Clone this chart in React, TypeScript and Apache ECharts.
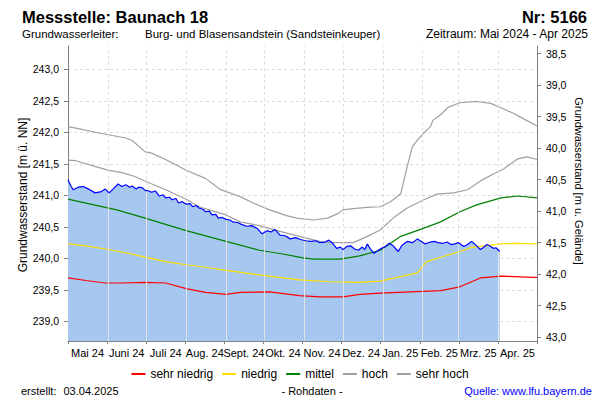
import React, { useEffect, useRef } from 'react';
import * as echarts from 'echarts';

const FONT = '"Liberation Sans", Arial, sans-serif';

const monthLabels = ['Mai 24', 'Juni 24', 'Juli 24', 'Aug. 24', 'Sept. 24', 'Okt. 24', 'Nov. 24', 'Dez. 24', 'Jan. 25', 'Feb. 25', 'Mrz. 25', 'Apr. 25'];
const monthStarts = ['2024-06-01', '2024-07-01', '2024-08-01', '2024-09-01', '2024-10-01', '2024-11-01', '2024-12-01', '2025-01-01', '2025-02-01', '2025-03-01', '2025-04-01'];
const levelTicks = [239.0, 239.5, 240.0, 240.5, 241.0, 241.5, 242.0, 242.5, 243.0];
const depthTicks = [38.5, 39.0, 39.5, 40.0, 40.5, 41.0, 41.5, 42.0, 42.5, 43.0];

const X_START = '2024-05-01';
const X_END = '2025-05-01';
const LEVEL_MIN = 238.69;
const LEVEL_MAX = 243.37;
const GROUND_LEVEL = 281.75;

const sehrNiedrig: [string, number][] = [
  ['2024-05-01', 239.69], ['2024-05-15', 239.65], ['2024-05-30', 239.61], ['2024-06-12', 239.61],
  ['2024-06-30', 239.62], ['2024-07-16', 239.61], ['2024-08-01', 239.52], ['2024-08-16', 239.46],
  ['2024-09-01', 239.43], ['2024-09-12', 239.46], ['2024-10-05', 239.47], ['2024-10-28', 239.41],
  ['2024-11-13', 239.39], ['2024-12-01', 239.39], ['2024-12-14', 239.43], ['2024-12-30', 239.45],
  ['2025-02-15', 239.49], ['2025-03-02', 239.55], ['2025-03-18', 239.69], ['2025-04-03', 239.72],
  ['2025-04-28', 239.70], ['2025-05-01', 239.70],
];

const niedrig: [string, number][] = [
  ['2024-05-01', 240.23], ['2024-05-15', 240.20], ['2024-05-30', 240.15], ['2024-06-15', 240.09],
  ['2024-06-30', 240.02], ['2024-07-16', 239.95], ['2024-08-01', 239.90], ['2024-08-16', 239.86],
  ['2024-09-01', 239.81], ['2024-09-27', 239.74], ['2024-10-28', 239.66], ['2024-11-21', 239.63],
  ['2024-12-14', 239.62], ['2024-12-30', 239.64], ['2025-01-28', 239.77], ['2025-02-04', 239.95],
  ['2025-02-17', 240.03], ['2025-03-02', 240.11], ['2025-03-10', 240.17], ['2025-04-03', 240.23],
  ['2025-04-16', 240.24], ['2025-05-01', 240.23],
];

const mittel: [string, number][] = [
  ['2024-05-01', 240.94], ['2024-05-30', 240.81], ['2024-06-08', 240.77], ['2024-06-30', 240.64],
  ['2024-08-01', 240.44], ['2024-09-01', 240.27], ['2024-09-27', 240.13], ['2024-10-15', 240.07],
  ['2024-10-31', 240.01], ['2024-11-08', 239.99], ['2024-11-29', 239.99], ['2024-12-14', 240.04],
  ['2024-12-30', 240.13], ['2025-01-15', 240.35], ['2025-02-02', 240.48], ['2025-02-15', 240.58],
  ['2025-03-02', 240.74], ['2025-03-15', 240.85], ['2025-04-03', 240.96], ['2025-04-16', 240.99],
  ['2025-05-01', 240.96],
];

const hoch: [string, number][] = [
  ['2024-05-01', 241.56], ['2024-05-07', 241.55], ['2024-05-22', 241.46], ['2024-06-01', 241.40],
  ['2024-06-12', 241.36], ['2024-06-22', 241.30], ['2024-07-03', 241.20], ['2024-07-16', 241.09],
  ['2024-08-01', 240.94], ['2024-08-11', 240.82], ['2024-08-22', 240.75], ['2024-09-01', 240.69],
  ['2024-09-12', 240.58], ['2024-09-27', 240.52], ['2024-10-13', 240.43], ['2024-10-28', 240.35],
  ['2024-11-13', 240.27], ['2024-11-21', 240.25], ['2024-12-09', 240.25], ['2024-12-20', 240.35],
  ['2024-12-30', 240.45], ['2025-01-09', 240.64], ['2025-01-20', 240.80], ['2025-02-02', 240.93],
  ['2025-02-12', 241.02], ['2025-02-25', 241.04], ['2025-03-08', 241.09], ['2025-03-18', 241.23],
  ['2025-03-28', 241.34], ['2025-04-05', 241.42], ['2025-04-16', 241.58], ['2025-04-23', 241.61],
  ['2025-05-01', 241.57],
];

const sehrHoch: [string, number][] = [
  ['2024-05-01', 242.09], ['2024-05-09', 242.06], ['2024-05-25', 241.99], ['2024-06-15', 241.91],
  ['2024-06-20', 241.87], ['2024-06-30', 241.69], ['2024-07-05', 241.67], ['2024-07-16', 241.57],
  ['2024-08-01', 241.40], ['2024-08-16', 241.27], ['2024-08-27', 241.10], ['2024-09-01', 241.06],
  ['2024-09-12', 240.98], ['2024-09-22', 240.88], ['2024-10-05', 240.77], ['2024-10-18', 240.68],
  ['2024-10-26', 240.64], ['2024-11-08', 240.61], ['2024-11-19', 240.64], ['2024-11-27', 240.71],
  ['2024-12-01', 240.77], ['2024-12-09', 240.79], ['2024-12-20', 240.81], ['2024-12-30', 240.82],
  ['2025-01-07', 240.90], ['2025-01-15', 241.03], ['2025-01-17', 241.20], ['2025-01-20', 241.46],
  ['2025-01-24', 241.77], ['2025-01-28', 241.88], ['2025-02-02', 241.99], ['2025-02-07', 242.09],
  ['2025-02-09', 242.19], ['2025-02-15', 242.28], ['2025-02-21', 242.40], ['2025-03-02', 242.47],
  ['2025-03-15', 242.49], ['2025-03-26', 242.46], ['2025-04-05', 242.37], ['2025-04-13', 242.30],
  ['2025-04-21', 242.21], ['2025-05-01', 242.10],
];

const measured: [string, number][] = [
  ['2024-05-01', 241.25], ['2024-05-03', 241.16], ['2024-05-05', 241.09], ['2024-05-09', 241.13],
  ['2024-05-13', 241.14], ['2024-05-17', 241.10], ['2024-05-22', 241.04], ['2024-05-27', 241.06],
  ['2024-05-30', 241.10], ['2024-06-02', 241.04], ['2024-06-06', 241.12], ['2024-06-09', 241.18],
  ['2024-06-12', 241.14], ['2024-06-15', 241.17], ['2024-06-18', 241.13], ['2024-06-20', 241.15],
  ['2024-06-23', 241.10], ['2024-06-25', 241.13], ['2024-06-28', 241.12], ['2024-06-30', 241.08],
  ['2024-07-03', 241.07], ['2024-07-05', 241.05], ['2024-07-08', 241.07], ['2024-07-11', 240.99],
  ['2024-07-14', 241.01], ['2024-07-16', 240.96], ['2024-07-19', 240.97], ['2024-07-21', 240.93],
  ['2024-07-24', 240.95], ['2024-07-26', 240.88], ['2024-07-29', 240.90], ['2024-08-01', 240.86],
  ['2024-08-04', 240.87], ['2024-08-06', 240.82], ['2024-08-09', 240.84], ['2024-08-11', 240.80],
  ['2024-08-14', 240.78], ['2024-08-16', 240.74], ['2024-08-19', 240.75], ['2024-08-21', 240.69],
  ['2024-08-24', 240.70], ['2024-08-26', 240.64], ['2024-08-29', 240.65], ['2024-09-01', 240.62],
  ['2024-09-04', 240.61], ['2024-09-06', 240.58], ['2024-09-10', 240.57], ['2024-09-13', 240.54],
  ['2024-09-17', 240.51], ['2024-09-21', 240.52], ['2024-09-25', 240.48], ['2024-09-29', 240.39],
  ['2024-10-03', 240.44], ['2024-10-06', 240.42], ['2024-10-09', 240.46], ['2024-10-13', 240.37],
  ['2024-10-17', 240.36], ['2024-10-21', 240.31], ['2024-10-25', 240.33], ['2024-10-29', 240.30],
  ['2024-11-02', 240.28], ['2024-11-06', 240.27], ['2024-11-10', 240.28], ['2024-11-13', 240.25],
  ['2024-11-17', 240.26], ['2024-11-20', 240.29], ['2024-11-23', 240.24], ['2024-11-26', 240.16],
  ['2024-11-29', 240.18], ['2024-12-01', 240.14], ['2024-12-04', 240.19], ['2024-12-07', 240.20],
  ['2024-12-10', 240.15], ['2024-12-13', 240.13], ['2024-12-16', 240.18], ['2024-12-18', 240.14],
  ['2024-12-20', 240.23], ['2024-12-22', 240.16], ['2024-12-25', 240.08], ['2024-12-28', 240.12],
  ['2024-12-31', 240.16], ['2025-01-03', 240.19], ['2025-01-06', 240.24], ['2025-01-09', 240.20],
  ['2025-01-13', 240.11], ['2025-01-16', 240.21], ['2025-01-20', 240.27], ['2025-01-24', 240.25],
  ['2025-01-28', 240.31], ['2025-01-31', 240.27], ['2025-02-03', 240.23], ['2025-02-07', 240.26],
  ['2025-02-10', 240.27], ['2025-02-13', 240.25], ['2025-02-17', 240.24], ['2025-02-20', 240.26],
  ['2025-02-23', 240.22], ['2025-02-26', 240.23], ['2025-03-01', 240.25], ['2025-03-05', 240.19],
  ['2025-03-08', 240.22], ['2025-03-11', 240.27], ['2025-03-14', 240.22], ['2025-03-18', 240.14],
  ['2025-03-20', 240.17], ['2025-03-23', 240.22], ['2025-03-26', 240.19], ['2025-03-28', 240.16],
  ['2025-03-30', 240.17], ['2025-04-02', 240.11],
];

const t = (s: string) => {
  const [y, m, d] = s.split('-').map(Number);
  return Date.UTC(y, m - 1, d);
};
const toPts = (arr: [string, number][]) => arr.map(([d, v]) => [t(d), v]);

function valueAt(pts: number[][], x: number): number | null {
  for (let i = 0; i < pts.length - 1; i++) {
    const [x0, y0] = pts[i];
    const [x1, y1] = pts[i + 1];
    if (x >= x0 && x <= x1) return y0 + ((y1 - y0) * (x - x0)) / (x1 - x0);
  }
  return null;
}

const fmt = (v: number) => v.toFixed(1).replace('.', ',');

export default function App() {
  const ref = useRef<HTMLDivElement>(null);

  useEffect(() => {
    document.body.style.margin = '0';
    if (!ref.current) return;
    const chart = echarts.init(ref.current, undefined, { renderer: 'svg' });
    const measuredPts = toPts(measured);

    const refLine = (name: string, data: [string, number][], color: string) => ({
      name,
      type: 'line',
      xAxisIndex: 0,
      yAxisIndex: 0,
      data: toPts(data),
      showSymbol: false,
      symbol: 'none',
      lineStyle: { color, width: 1.2 },
      itemStyle: { color },
      z: 4,
      silent: true,
    });

    const txt = (text: string, x: number, y: number, extra: any = {}) => ({
      type: 'text',
      x,
      y,
      rotation: extra.rotation || 0,
      style: {
        text,
        fill: extra.fill || '#000',
        fontSize: extra.fontSize || 11,
        fontWeight: extra.fontWeight || 'normal',
        fontFamily: FONT,
        align: extra.align || 'left',
        verticalAlign: 'middle',
      },
    });

    chart.setOption({
      animation: false,
      textStyle: { fontFamily: FONT },
      grid: { left: 68, right: 63, top: 46, bottom: 59, containLabel: false, outerBoundsMode: 'none' },
      legend: {
        data: ['sehr niedrig', 'niedrig', 'mittel', 'hoch', 'sehr hoch'],
        left: 'center',
        top: 363,
        icon: 'rect',
        itemWidth: 14,
        itemHeight: 2,
        itemGap: 9,
        selectedMode: false,
        textStyle: { fontSize: 12, color: '#000', fontFamily: FONT },
      },
      xAxis: [
        {
          type: 'time',
          min: t(X_START),
          max: t(X_END),
          position: 'bottom',
          axisLine: { show: true, lineStyle: { color: '#808080' } },
          axisTick: { show: false },
          axisLabel: { show: false },
          splitLine: { show: false },
        },
        {
          type: 'category',
          data: monthLabels,
          boundaryGap: true,
          position: 'bottom',
          axisLine: { show: false },
          axisTick: { show: true, length: 3, lineStyle: { color: '#808080' } },
          axisLabel: { interval: 0, hideOverlap: false, fontSize: 11, color: '#000', margin: 6, fontFamily: FONT },
          splitLine: { show: false },
        },
      ],
      yAxis: [
        {
          type: 'value',
          position: 'left',
          min: LEVEL_MIN,
          max: LEVEL_MAX,
          minInterval: 0.5,
          maxInterval: 0.5,
          axisLine: { show: true, lineStyle: { color: '#808080' } },
          axisTick: { show: true, length: 4, customValues: levelTicks, lineStyle: { color: '#808080' } },
          axisLabel: {
            customValues: levelTicks,
            formatter: fmt,
            fontSize: 10.5,
            color: '#000',
            margin: 9,
            fontFamily: FONT,
          },
          splitLine: { show: true, lineStyle: { color: '#dcdcdc', type: [3, 3], width: 1 } },
        },
        {
          type: 'value',
          position: 'right',
          inverse: true,
          min: GROUND_LEVEL - LEVEL_MAX,
          max: GROUND_LEVEL - LEVEL_MIN,
          minInterval: 0.5,
          maxInterval: 0.5,
          axisLine: { show: true, lineStyle: { color: '#808080' } },
          axisTick: { show: true, length: 4, customValues: depthTicks, lineStyle: { color: '#808080' } },
          axisLabel: {
            customValues: depthTicks,
            formatter: fmt,
            fontSize: 10.5,
            color: '#000',
            margin: 9,
            fontFamily: FONT,
          },
          splitLine: { show: false },
        },
      ],
      series: [
        {
          name: 'grid',
          type: 'line',
          data: [[t(X_START), LEVEL_MIN]],
          symbol: 'none',
          lineStyle: { opacity: 0, width: 0 },
          z: 1,
          silent: true,
          markLine: {
            silent: true,
            symbol: ['none', 'none'],
            label: { show: false },
            emphasis: { disabled: true },
            lineStyle: { color: '#dcdcdc', type: [3, 3], width: 1 },
            data: monthStarts.map((d) => ({ xAxis: t(d) })),
          },
        },
        {
          name: 'area',
          type: 'line',
          data: measuredPts,
          symbol: 'none',
          showSymbol: false,
          lineStyle: { opacity: 0, width: 0 },
          areaStyle: { color: '#a6c8f0', opacity: 1, origin: 'start' },
          z: 2,
          silent: true,
          markLine: {
            silent: true,
            symbol: ['none', 'none'],
            label: { show: false },
            emphasis: { disabled: true },
            lineStyle: { color: '#e2e2e2', type: 'solid', width: 1 },
            data: monthStarts
              .map((d) => ({ x: t(d), v: valueAt(measuredPts, t(d)) }))
              .filter((o) => o.v !== null)
              .map((o) => [{ coord: [o.x, LEVEL_MIN] }, { coord: [o.x, o.v] }]),
          },
        },
        refLine('sehr niedrig', sehrNiedrig, '#ff0000'),
        refLine('niedrig', niedrig, '#ffe000'),
        refLine('mittel', mittel, '#008000'),
        refLine('hoch', hoch, '#a0a0a0'),
        refLine('sehr hoch', sehrHoch, '#a0a0a0'),
        {
          name: 'Messwerte',
          type: 'line',
          data: measuredPts,
          symbol: 'none',
          showSymbol: false,
          lineStyle: { color: '#0000ff', width: 1.2 },
          z: 5,
          silent: true,
        },
      ],
      graphic: [
        txt('Messstelle: Baunach 18', 22, 16.5, { fontSize: 16.5, fontWeight: 'bold' }),
        txt('Nr: 5166', 587, 16.5, { fontSize: 16.5, fontWeight: 'bold', align: 'right' }),
        txt('Grundwasserleiter:', 22, 33.5, { fontSize: 11.5 }),
        txt('Burg- und Blasensandstein (Sandsteinkeuper)', 145, 33.5, { fontSize: 11.5 }),
        txt('Zeitraum: Mai 2024 - Apr 2025', 588, 33.5, { align: 'right', fontSize: 12 }),
        txt('Grundwasserstand [m ü. NN]', 22.5, 195, { fontSize: 12, align: 'center', rotation: Math.PI / 2 }),
        txt('Grundwasserstand [m u. Gelände]', 579, 181, { fontSize: 11, align: 'center', rotation: -Math.PI / 2 }),
        txt('erstellt:', 21, 391),
        txt('03.04.2025', 63.5, 391),
        txt('- Rohdaten -', 312, 391, { align: 'center' }),
        txt('Quelle: www.lfu.bayern.de', 592, 391, { align: 'right', fill: '#0000ff' }),
      ],
    });

    return () => chart.dispose();
  }, []);

  return <div ref={ref} style={{ width: 600, height: 400 }} />;
}
